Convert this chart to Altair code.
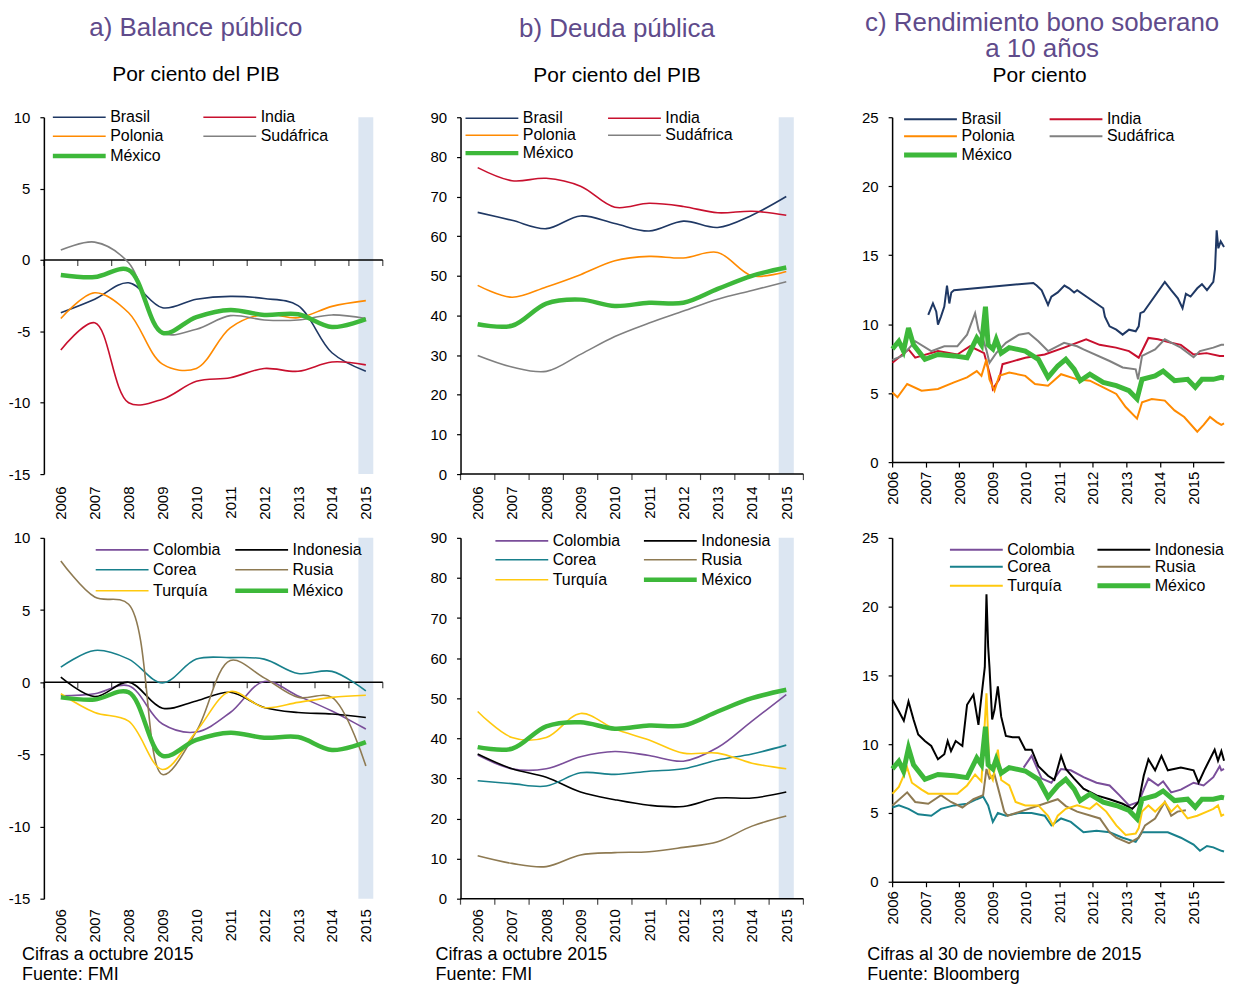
import altair as alt
import pandas as pd

FONT = "Liberation Sans"
TITLE_COLOR = "#5F4B8B"
SHADE_COLOR = "#DCE6F2"

YEARS = list(range(2006, 2016))
YEAR_EDGES = [2005.5 + i for i in range(11)]
FORECAST_BAND = [2014.78, 2015.22]

GROUP1 = ["Brasil", "India", "Polonia", "Sudáfrica", "México"]
GROUP1_COLORS = ["#1F3864", "#C8102E", "#FF8A00", "#808080", "#3DB83A"]
GROUP2 = ["Colombia", "Indonesia", "Corea", "Rusia", "Turquía", "México"]
GROUP2_COLORS = ["#7A4E9A", "#000000", "#18808C", "#8E7A52", "#FFC90E", "#3DB83A"]

# a) Balance público (% PIB)
BAL_BRASIL = [-3.7, -2.75, -1.6, -3.35, -2.75, -2.55, -2.7, -3.2, -6.5, -7.8]
BAL_INDIA = [-6.3, -4.4, -10.0, -9.75, -8.5, -8.25, -7.6, -7.8, -7.15, -7.35]
BAL_POLONIA = [-4.1, -2.3, -3.7, -7.3, -7.6, -4.75, -3.8, -4.05, -3.25, -2.85]
BAL_SUDAFRICA = [0.7, 1.25, -0.2, -5.1, -4.85, -3.9, -4.2, -4.2, -3.85, -4.1]
BAL_MEXICO = [-1.05, -1.2, -0.7, -5.1, -4.0, -3.5, -3.85, -3.8, -4.7, -4.15]
BAL_COLOMBIA = [-0.95, -0.8, -0.25, -2.9, -3.45, -2.1, 0.05, -0.95, -2.0, -3.25]
BAL_INDONESIA = [0.35, -1.0, 0.0, -1.8, -1.3, -0.7, -1.75, -2.1, -2.2, -2.45]
BAL_COREA = [1.05, 2.2, 1.6, -0.05, 1.6, 1.7, 1.6, 0.6, 0.75, -0.6]
BAL_RUSIA = [8.4, 5.9, 5.4, -6.4, -3.4, 1.5, 0.3, -1.05, -1.05, -5.8]
BAL_TURQUIA = [-0.8, -2.1, -2.7, -6.05, -3.4, -0.65, -1.75, -1.4, -1.05, -0.9]

# b) Deuda pública (% PIB)
DEU_BRASIL = [66.0, 64.0, 61.9, 65.1, 63.2, 61.3, 63.8, 62.2, 65.3, 70.0]
DEU_INDIA = [77.3, 74.0, 74.6, 72.6, 67.3, 68.3, 67.5, 65.9, 66.3, 65.3]
DEU_POLONIA = [47.6, 44.6, 47.2, 50.3, 53.8, 54.9, 54.5, 55.9, 50.0, 51.1]
DEU_SUDAFRICA = [29.9, 27.0, 25.9, 30.2, 34.7, 38.1, 41.1, 44.1, 46.3, 48.5]
DEU_MEXICO = [37.8, 37.4, 43.0, 44.0, 42.4, 43.2, 43.2, 46.7, 50.0, 52.1]
DEU_COLOMBIA = [35.8, 32.4, 32.4, 35.4, 36.7, 35.7, 34.3, 37.7, 44.3, 50.9]
DEU_INDONESIA = [36.1, 32.4, 30.3, 26.6, 24.7, 23.3, 23.0, 25.1, 25.1, 26.6]
DEU_COREA = [29.4, 28.7, 28.1, 31.4, 31.0, 31.8, 32.4, 34.6, 36.1, 38.3]
DEU_RUSIA = [10.7, 8.8, 8.0, 10.9, 11.5, 11.7, 12.8, 14.2, 18.1, 20.6]
DEU_TURQUIA = [46.7, 40.2, 40.2, 46.2, 42.3, 39.6, 36.3, 36.3, 33.8, 32.4]

# c) Rendimiento bono soberano a 10 años (%), fechas en años decimales
REN_BRASIL_T = [2007.08, 2007.22, 2007.32, 2007.37, 2007.46, 2007.56, 2007.64, 2007.71, 2007.77, 2007.85,
                2010.22, 2010.32, 2010.47, 2010.66, 2010.76, 2010.95, 2011.15, 2011.29, 2011.44, 2011.53,
                2012.31, 2012.36, 2012.50, 2012.70, 2012.89, 2013.08, 2013.28, 2013.37, 2013.42, 2013.52,
                2014.15, 2014.34, 2014.54, 2014.68, 2014.78, 2014.92, 2015.12, 2015.26, 2015.41, 2015.60,
                2015.65, 2015.70, 2015.75, 2015.82, 2015.92]
REN_BRASIL_V = [10.67, 11.5, 10.9, 9.96, 10.55, 11.27, 12.8, 11.5, 12.3, 12.46,
                12.99, 12.8, 12.46, 11.4, 12.0, 12.3, 12.8, 12.6, 12.3, 12.46,
                11.15, 10.55, 9.84, 9.6, 9.24, 9.6, 9.48, 9.84, 10.8, 10.9,
                13.06, 12.46, 11.87, 11.15, 12.2, 12.0, 12.6, 12.9, 12.46, 13.06,
                14.0, 16.8, 15.5, 16.0, 15.6]
REN_INDIA_T = [2006.01, 2006.49, 2006.69, 2007.37, 2007.95, 2008.33, 2008.75, 2008.96, 2009.01, 2009.2,
               2009.3, 2009.6, 2009.98, 2010.56, 2011.14, 2011.8, 2012.2, 2012.69, 2013.08, 2013.37,
               2013.66, 2013.95, 2014.34, 2014.63, 2015.01, 2015.4, 2015.79, 2015.92]
REN_INDIA_V = [7.2, 8.17, 7.57, 8.05, 7.8, 8.4, 7.9, 6.0, 5.3, 6.0,
               7.1, 7.3, 7.57, 7.8, 8.3, 8.9, 8.5, 8.3, 8.05, 7.57,
               9.0, 8.9, 8.65, 8.5, 7.8, 7.9, 7.7, 7.7]
REN_POLONIA_T = [2006.01, 2006.16, 2006.45, 2006.88, 2007.37, 2007.85, 2008.24, 2008.53, 2008.67, 2008.82,
                 2008.91, 2009.06, 2009.2, 2009.5, 2009.98, 2010.27, 2010.66, 2011.05, 2011.53, 2011.91,
                 2012.31, 2012.7, 2012.98, 2013.32, 2013.47, 2013.76, 2014.15, 2014.44, 2014.73, 2015.12,
                 2015.31, 2015.5, 2015.7, 2015.84, 2015.92]
REN_POLONIA_V = [5.05, 4.7, 5.66, 5.18, 5.3, 5.78, 6.14, 6.6, 6.25, 7.45,
                 6.0, 5.18, 6.25, 6.5, 6.25, 5.66, 5.54, 6.37, 6.0, 5.9,
                 5.42, 4.94, 3.99, 3.15, 4.34, 4.58, 4.46, 3.75, 3.27, 2.2,
                 2.7, 3.27, 2.9, 2.7, 2.8]
REN_SUDAFRICA_T = [2006.01, 2006.3, 2006.69, 2007.17, 2007.56, 2007.95, 2008.24, 2008.48, 2008.58, 2008.72,
                   2008.82, 2008.91, 2009.11, 2009.4, 2009.79, 2010.08, 2010.37, 2010.66, 2011.14, 2011.53,
                   2011.72, 2012.5, 2012.89, 2013.28, 2013.35, 2013.47, 2013.86, 2014.15, 2014.63, 2015.01,
                   2015.2, 2015.6, 2015.84, 2015.92]
REN_SUDAFRICA_V = [7.4, 7.7, 8.76, 8.05, 8.4, 8.4, 9.24, 10.8, 9.6, 8.9,
                   8.1, 7.2, 7.9, 8.65, 9.24, 9.36, 8.76, 8.05, 8.65, 8.4,
                   8.17, 7.33, 6.86, 6.73, 6.0, 7.7, 8.17, 8.9, 8.3, 7.6,
                   8.05, 8.3, 8.5, 8.5]
REN_MEXICO_T = [2006.01, 2006.2, 2006.34, 2006.49, 2006.64, 2006.98, 2007.37, 2007.85, 2008.24, 2008.53,
                2008.67, 2008.79, 2008.87, 2009.01, 2009.11, 2009.26, 2009.5, 2009.98, 2010.37, 2010.66,
                2010.95, 2011.19, 2011.44, 2011.62, 2011.91, 2012.31, 2012.7, 2013.08, 2013.32, 2013.47,
                2013.86, 2014.1, 2014.44, 2014.83, 2015.06, 2015.26, 2015.6, 2015.84, 2015.92]
REN_MEXICO_V = [8.2, 8.76, 8.05, 9.72, 8.5, 7.45, 7.8, 7.7, 7.57, 9.0,
                8.5, 11.27, 8.5, 8.2, 8.9, 7.9, 8.3, 8.05, 7.45, 6.14,
                6.97, 7.45, 6.73, 5.9, 6.37, 5.78, 5.54, 5.18, 4.58, 6.0,
                6.25, 6.6, 5.9, 6.0, 5.42, 6.0, 6.0, 6.14, 6.1]
REN_INDONESIA_T = [2006.01, 2006.2, 2006.35, 2006.49, 2006.64, 2006.78, 2006.98, 2007.17, 2007.37, 2007.56,
                   2007.66, 2007.76, 2007.9, 2008.1, 2008.24, 2008.43, 2008.58, 2008.63, 2008.77, 2008.82,
                   2008.87, 2008.91, 2008.99, 2009.06, 2009.16, 2009.26, 2009.4, 2009.6, 2009.79, 2009.98,
                   2010.17, 2010.37, 2010.66, 2010.85, 2011.05, 2011.19, 2011.44, 2011.72, 2012.11, 2012.5,
                   2012.89, 2013.18, 2013.37, 2013.52, 2013.66, 2013.86, 2014.05, 2014.24, 2014.63, 2015.01,
                   2015.16, 2015.35, 2015.64, 2015.74, 2015.84, 2015.92]
REN_INDONESIA_V = [13.23, 12.4, 11.7, 13.1, 11.8, 10.7, 10.23, 9.87, 8.9, 9.27,
                   10.23, 9.5, 10.23, 9.87, 12.87, 13.6, 11.4, 12.6, 15.6, 20.9,
                   17.1, 15.6, 11.8, 12.5, 14.2, 12.0, 10.6, 10.5, 10.5, 9.6,
                   9.6, 8.4, 7.7, 7.4, 9.15, 8.2, 7.5, 6.76, 6.28, 6.0,
                   5.67, 5.3, 5.8, 7.7, 8.9, 8.1, 9.15, 8.1, 8.3, 8.1,
                   7.2, 8.2, 9.6, 8.8, 9.5, 8.8]
REN_COLOMBIA_T = [2009.93, 2010.17, 2010.47, 2010.76, 2011.05, 2011.34, 2011.72, 2012.11, 2012.5, 2012.79,
                  2013.08, 2013.37, 2013.52, 2013.66, 2013.95, 2014.1, 2014.34, 2014.63, 2015.01, 2015.31,
                  2015.6, 2015.79, 2015.84, 2015.92]
REN_COLOMBIA_V = [8.3, 9.15, 7.5, 7.2, 8.2, 8.1, 7.6, 7.2, 7.0, 6.3,
                  5.55, 5.8, 6.7, 7.5, 7.0, 7.3, 6.5, 6.7, 7.2, 7.0,
                  7.6, 8.4, 8.1, 8.2]
REN_COREA_T = [2006.01, 2006.2, 2006.49, 2006.78, 2007.17, 2007.46, 2007.85, 2008.24, 2008.53, 2008.72,
               2008.87, 2009.01, 2009.16, 2009.4, 2009.79, 2010.17, 2010.56, 2010.76, 2011.05, 2011.34,
               2011.72, 2012.11, 2012.5, 2012.89, 2013.28, 2013.47, 2013.86, 2014.24, 2014.63, 2015.01,
               2015.2, 2015.41, 2015.6, 2015.84, 2015.92]
REN_COREA_V = [5.4, 5.55, 5.3, 4.9, 4.8, 5.3, 5.55, 5.67, 6.0, 6.2,
               5.55, 4.35, 5.0, 4.8, 5.0, 5.0, 4.8, 4.1, 4.6, 4.35,
               3.6, 3.7, 3.6, 3.2, 2.9, 3.6, 3.6, 3.6, 3.2, 2.7,
               2.25, 2.6, 2.5, 2.25, 2.2]
REN_RUSIA_T = [2006.01, 2006.45, 2006.69, 2007.08, 2007.46, 2007.76, 2008.1, 2008.43, 2008.72, 2008.82,
               2008.91, 2009.06, 2009.2, 2009.35, 2009.45, 2010.95, 2011.19, 2011.53, 2012.21, 2012.5,
               2012.7, 2013.08, 2013.37, 2013.56, 2013.86, 2014.15, 2014.34, 2014.53, 2014.78]
REN_RUSIA_V = [5.55, 6.5, 5.8, 5.67, 6.3, 5.8, 5.4, 6.0, 6.3, 8.2,
               7.5, 7.8, 6.5, 5.1, 4.8, 6.0, 5.5, 5.1, 4.6, 3.6,
               3.2, 2.8, 3.2, 4.1, 4.6, 5.8, 4.8, 5.1, 5.2]
REN_TURQUIA_T = [2006.01, 2006.2, 2006.45, 2006.59, 2006.88, 2007.08, 2007.95, 2008.24, 2008.48, 2008.67,
                 2008.82, 2008.91, 2009.01, 2009.16, 2009.26, 2009.5, 2009.69, 2009.98, 2010.37, 2010.66,
                 2010.81, 2010.95, 2011.19, 2011.53, 2011.91, 2012.11, 2012.4, 2012.7, 2012.98, 2013.28,
                 2013.37, 2013.47, 2013.66, 2013.86, 2014.15, 2014.34, 2014.53, 2014.83, 2015.12, 2015.41,
                 2015.6, 2015.74, 2015.84, 2015.92]
REN_TURQUIA_V = [6.4, 6.9, 8.3, 7.2, 6.7, 6.4, 6.4, 7.0, 7.8, 7.3,
                 13.7, 7.9, 7.4, 9.6, 7.4, 7.0, 5.8, 5.55, 5.55, 4.8,
                 4.1, 4.8, 5.3, 5.55, 5.3, 5.7, 5.1, 4.1, 3.4, 3.5,
                 3.9, 5.1, 5.55, 5.1, 5.8, 5.1, 5.55, 4.6, 4.8, 5.1,
                 5.3, 5.55, 4.8, 4.9]


def annual_frame(names, series):
    rows = []
    for name in names:
        for yr, v in zip(YEARS, series[name]):
            rows.append({"pais": name, "x": yr, "v": v})
    return pd.DataFrame(rows)


def daily_frame(names, series):
    rows = []
    for name in names:
        ts, vs = series[name]
        for t, v in zip(ts, vs):
            rows.append({"pais": name, "x": t, "v": v})
    return pd.DataFrame(rows)


def make_legend(lx, ly, colpad, rowpad, title=None, title_pad=0):
    kw = dict(
        orient="none", legendX=lx, legendY=ly, columns=2, direction="horizontal",
        columnPadding=colpad, rowPadding=rowpad, labelFont=FONT, labelFontSize=16,
        labelColor="black", symbolType="M-5.3,0H5.3", symbolSize=100,
        symbolOffset=18.5, labelOffset=23, gridAlign="each", padding=0, labelLimit=300,
    )
    if title is None:
        kw["title"] = None
    else:
        kw.update(title=title, titleFont=FONT, titleFontSize=21, titleFontWeight="normal",
                  titleColor="black", titleAnchor="middle", titlePadding=title_pad, titleLimit=400)
    return alt.Legend(**kw)


def y_axis(values, min_extent=None):
    kw = dict(
        values=values, grid=False, title=None, domainColor="black", domainWidth=1.5,
        tickColor="black", tickSize=4, tickWidth=1.2, labelPadding=10,
        labelFont=FONT, labelFontSize=15, labelColor="black", labelFlush=False,
        labelExpr="replace(datum.label, '\u2212', '-')",
    )
    if min_extent is not None:
        kw["minExtent"] = min_extent
    return alt.Axis(**kw)


def series_layers(df, names, colors, X, Y, leg, interp, thin_w, thick_w):
    widths = [thick_w if n == "México" else thin_w for n in names]
    color = alt.Color("pais:N", scale=alt.Scale(domain=names, range=colors), legend=leg)
    sw = alt.StrokeWidth("pais:N", scale=alt.Scale(type="ordinal", domain=names, range=widths), legend=leg)
    base = alt.Chart(df).encode(x=X("x:Q"), y=Y("v:Q"), color=color, strokeWidth=sw)
    thin = base.transform_filter(alt.datum.pais != "México").mark_line(interpolate=interp)
    thick = base.transform_filter(alt.datum.pais == "México").mark_line(interpolate=interp)
    return [thin, thick]


def annual_panel(df, names, colors, ydom, yvals, w, h, leg, title, label_pad):
    xs = alt.Scale(domain=[2005.5, 2015.5], nice=False, zero=False)
    ys = alt.Scale(domain=ydom, nice=False, zero=False)
    xax = alt.Axis(values=YEARS, format="d", labelAngle=-90, domain=False, ticks=False,
                   grid=False, labelPadding=label_pad, labelFlush=False, labelOverlap=False,
                   title=None, labelFont=FONT, labelFontSize=15, labelColor="black")
    yax = y_axis(yvals)

    def X(f):
        return alt.X(f, scale=xs, axis=xax)

    def Y(f):
        return alt.Y(f, scale=ys, axis=yax)

    band = alt.Chart(pd.DataFrame({"x1": [FORECAST_BAND[0]], "x2": [FORECAST_BAND[1]],
                                   "y1": [ydom[0]], "y2": [ydom[1]]})).mark_rect(
        color=SHADE_COLOR).encode(x=X("x1:Q"), x2="x2:Q", y=Y("y1:Q"), y2="y2:Q")
    zero = alt.Chart(pd.DataFrame({"y": [0]})).mark_rule(color="black", strokeWidth=1.5).encode(y=Y("y:Q"))
    ticks = alt.Chart(pd.DataFrame({"x": YEAR_EDGES, "y": [0] * len(YEAR_EDGES)})).mark_tick(
        orient="vertical", size=6, thickness=1.2, color="black", yOffset=3).encode(x=X("x:Q"), y=Y("y:Q"))
    layers = [band, zero, ticks] + series_layers(df, names, colors, X, Y, leg, "catmull-rom", 1.6, 4.5)
    return alt.layer(*layers).properties(width=w, height=h, title=title)


def yield_panel(df, names, colors, w, h, leg, title):
    xs = alt.Scale(domain=[2006, 2015.92], nice=False, zero=False)
    ys = alt.Scale(domain=[0, 25], nice=False, zero=False)
    xax = alt.Axis(values=YEARS, format="d", labelAngle=-90, domain=True, domainColor="black",
                   domainWidth=1.5, ticks=True, tickColor="black", tickSize=5, tickWidth=1.2,
                   grid=False, labelPadding=4, labelFlush=False, labelOverlap=False, title=None,
                   labelFont=FONT, labelFontSize=15, labelColor="black")
    yax = y_axis([0, 5, 10, 15, 20, 25], min_extent=42)

    def X(f):
        return alt.X(f, scale=xs, axis=xax)

    def Y(f):
        return alt.Y(f, scale=ys, axis=yax)

    layers = series_layers(df, names, colors, X, Y, leg, "linear", 2.0, 5.0)
    return alt.layer(*layers).properties(width=w, height=h, title=title)


def top_title(text, sub, sub_pad, offset, sub_is_title=False):
    kw = dict(
        text=text, subtitle=sub, anchor="middle", frame="bounds", font=FONT, fontSize=26,
        fontWeight="normal", color=TITLE_COLOR, subtitleFont=FONT,
        subtitlePadding=sub_pad, offset=offset,
    )
    if sub_is_title:
        kw.update(subtitleFontSize=26, subtitleColor=TITLE_COLOR)
    else:
        kw.update(subtitleFontSize=21, subtitleColor="black")
    return alt.TitleParams(**kw)


def foot_title(line1, line2, dx, offset):
    return alt.TitleParams(
        text=line1, subtitle=line2, orient="bottom", anchor="start", frame="group", dx=dx,
        offset=offset, font=FONT, fontSize=18, fontWeight="normal", color="black",
        subtitleFont=FONT, subtitleFontSize=18, subtitleColor="black", subtitlePadding=2,
    )


bal1 = annual_frame(GROUP1, {"Brasil": BAL_BRASIL, "India": BAL_INDIA, "Polonia": BAL_POLONIA,
                             "Sudáfrica": BAL_SUDAFRICA, "México": BAL_MEXICO})
bal2 = annual_frame(GROUP2, {"Colombia": BAL_COLOMBIA, "Indonesia": BAL_INDONESIA, "Corea": BAL_COREA,
                             "Rusia": BAL_RUSIA, "Turquía": BAL_TURQUIA, "México": BAL_MEXICO})
deu1 = annual_frame(GROUP1, {"Brasil": DEU_BRASIL, "India": DEU_INDIA, "Polonia": DEU_POLONIA,
                             "Sudáfrica": DEU_SUDAFRICA, "México": DEU_MEXICO})
deu2 = annual_frame(GROUP2, {"Colombia": DEU_COLOMBIA, "Indonesia": DEU_INDONESIA, "Corea": DEU_COREA,
                             "Rusia": DEU_RUSIA, "Turquía": DEU_TURQUIA, "México": DEU_MEXICO})
ren1 = daily_frame(GROUP1, {"Brasil": (REN_BRASIL_T, REN_BRASIL_V), "India": (REN_INDIA_T, REN_INDIA_V),
                            "Polonia": (REN_POLONIA_T, REN_POLONIA_V),
                            "Sudáfrica": (REN_SUDAFRICA_T, REN_SUDAFRICA_V),
                            "México": (REN_MEXICO_T, REN_MEXICO_V)})
ren2 = daily_frame(GROUP2, {"Colombia": (REN_COLOMBIA_T, REN_COLOMBIA_V),
                            "Indonesia": (REN_INDONESIA_T, REN_INDONESIA_V),
                            "Corea": (REN_COREA_T, REN_COREA_V), "Rusia": (REN_RUSIA_T, REN_RUSIA_V),
                            "Turquía": (REN_TURQUIA_T, REN_TURQUIA_V),
                            "México": (REN_MEXICO_T, REN_MEXICO_V)})

BAL_TICKS = [-15, -10, -5, 0, 5, 10]
DEU_TICKS = [0, 10, 20, 30, 40, 50, 60, 70, 80, 90]

a_top = annual_panel(bal1, GROUP1, GROUP1_COLORS, [-15, 10], BAL_TICKS, 340, 358,
                     make_legend(9, -8, 36, 3),
                     top_title("a) Balance público", "Por ciento del PIB", 24, 24), 12)
b_top = annual_panel(deu1, GROUP1, GROUP1_COLORS, [0, 90], DEU_TICKS, 344, 358,
                     make_legend(5, -7, 28, 1),
                     top_title("b) Deuda pública", "Por ciento del PIB", 24, 24), 12)
c_top = yield_panel(ren1, GROUP1, GROUP1_COLORS, 333, 346,
                    make_legend(12, -52, 31, 1, title="Por ciento", title_pad=25),
                    top_title("c) Rendimiento bono soberano", "a 10 años", 1, 3, sub_is_title=True))

a_bot = annual_panel(bal2, GROUP2, GROUP2_COLORS, [-15, 10], BAL_TICKS, 340, 362,
                     make_legend(52, 4, 5, 4),
                     foot_title("Cifras a octubre 2015", "Fuente: FMI", -22, 4), 10)
b_bot = annual_panel(deu2, GROUP2, GROUP2_COLORS, [0, 90], DEU_TICKS, 344, 362,
                     make_legend(35, -5, 14, 3),
                     foot_title("Cifras a octubre 2015", "Fuente: FMI", -25, 4), 10)
c_bot = yield_panel(ren2, GROUP2, GROUP2_COLORS, 333, 345, make_legend(58, 4, 12, 1),
                    foot_title("Cifras al 30 de noviembre de 2015", "Fuente: Bloomberg", -25, 22))


def indep(ch):
    return ch.resolve_scale(color="independent", strokeWidth="independent").resolve_legend(
        color="independent", strokeWidth="independent")


row1 = indep(alt.hconcat(a_top, b_top, c_top, spacing=46))
row2 = indep(alt.hconcat(a_bot, b_bot, c_bot, spacing=46))
chart = indep(alt.vconcat(row1, row2, spacing=11)).properties(padding=0).configure_view(stroke=None)

chart.save("out.html", embed_options={"renderer": "svg", "actions": False})
